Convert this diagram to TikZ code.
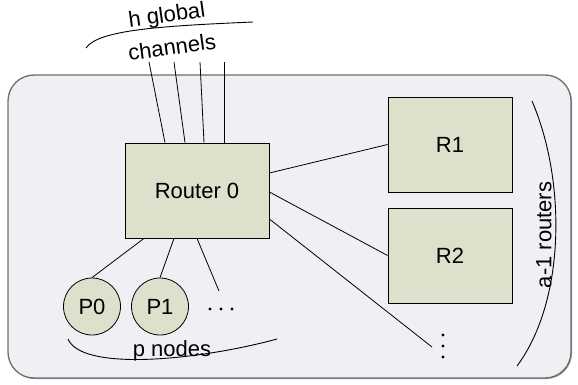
\documentclass[tikz,border=0pt]{standalone}
\usepackage{fontspec}
\setmainfont{Liberation Sans}
\usetikzlibrary{shadows}
\definecolor{bgfill}{HTML}{F0EFF4}
\definecolor{bgdraw}{HTML}{6E6E6E}
\definecolor{boxfill}{HTML}{DDE0CB}
\tikzset{
  lbl/.style={font=\fontsize{22}{26}\selectfont, inner sep=0pt},
  router/.style={draw=black, line width=0.8pt, fill=boxfill, rectangle, inner sep=0pt,
    font=\fontsize{22}{26}\selectfont,
    drop shadow={shadow xshift=1.2pt, shadow yshift=-1.2pt, fill=gray!80, opacity=1}},
  proc/.style={draw=black, line width=0.8pt, fill=boxfill, circle, minimum size=57pt, inner sep=0pt,
    font=\fontsize{22}{26}\selectfont},
  link/.style={draw=black, line width=0.8pt},
  brace/.style={draw=black, line width=0.9pt},
  dotmark/.style={fill=black, circle, inner sep=0pt, minimum size=3.2pt}
}
\begin{document}
\begin{tikzpicture}[x=1pt,y=-1pt]
\useasboundingbox (0,0) rectangle (578,384);
% background
\draw[fill=bgfill, draw=bgdraw, line width=1.3pt, rounded corners=26pt,
  drop shadow={shadow xshift=1pt, shadow yshift=-1pt, fill=gray!90, opacity=1}]
  (8,75) rectangle (571,378);
% nodes
\node[router, minimum width=144pt, minimum height=95pt] (r0) at (197,190.5) {Router 0};
\node[router, minimum width=124pt, minimum height=95pt] (r1) at (450,144.5) {R1};
\node[router, minimum width=124pt, minimum height=95pt] (r2) at (450,255.5) {R2};
\node[proc] (p0) at (92,306.5) {P0};
\node[proc] (p1) at (160,306.5) {P1};
% free ends
\coordinate (g1) at (149,62);
\coordinate (g2) at (174,62);
\coordinate (g3) at (200,62);
\coordinate (g4) at (224,62);
\coordinate (hd) at (219,291);
\coordinate (vd) at (432,347);
% connectors
\draw[link] ([xshift=-32pt]r0.north) -- (g1);
\draw[link] ([xshift=-12pt]r0.north) -- (g2);
\draw[link] ([xshift=7pt]r0.north) -- (g3);
\draw[link] ([xshift=27pt]r0.north) -- (g4);
\draw[link] ([yshift=17.5pt]r0.east) -- (r1.west);
\draw[link] ([yshift=-1.5pt]r0.east) -- (r2.west);
\draw[link] ([yshift=-28.5pt]r0.east) -- (vd);
\draw[link] ([xshift=-53pt]r0.south) -- (p0.north);
\draw[link] ([xshift=-23pt]r0.south) -- (p1.north);
\draw[link] (r0.south) -- (hd);
% dots
\node[dotmark] (hd1) at (210,309) {};
\node[dotmark] (hd2) at (221,309) {};
\node[dotmark] (hd3) at (232,309) {};
\node[dotmark] (vd1) at (443,335) {};
\node[dotmark] (vd2) at (443,346) {};
\node[dotmark] (vd3) at (443,357) {};
% braces
\draw[brace] (86,48) .. controls (98,30) and (160,26) .. (253,22);
\draw[brace] (68,339) .. controls (82,372) and (200,360) .. (277,339);
\draw[brace] (532,101) .. controls (566,180) and (566,300) .. (517,366);
% labels
\node[lbl, rotate=8] (hg) at (167,16.5) {h global};
\node[lbl, rotate=8] (ch) at (172,47) {channels};
\node[lbl] (pn) at (172,351) {p nodes};
\node[lbl, rotate=90] (ar) at (544,235) {a-1 routers};
\end{tikzpicture}
\end{document}
